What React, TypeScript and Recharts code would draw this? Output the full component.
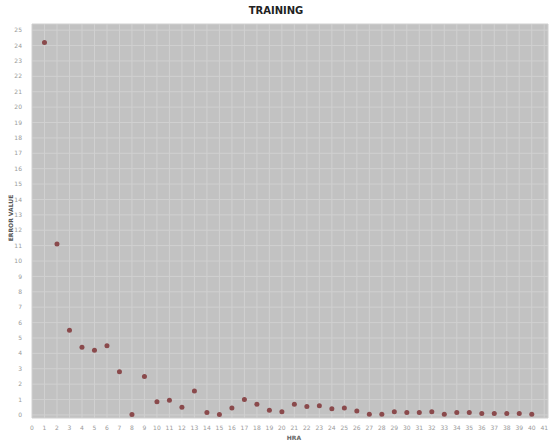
import { ScatterChart, Scatter, XAxis, YAxis, CartesianGrid } from "recharts"

const iterations = [
  1, 2, 3, 4, 5, 6, 7, 8, 9, 10, 11, 12, 13, 14, 15, 16, 17, 18, 19, 20,
  21, 22, 23, 24, 25, 26, 27, 28, 29, 30, 31, 32, 33, 34, 35, 36, 37, 38, 39, 40,
]
const errorValues = [
  24.2, 11.1, 5.5, 4.4, 4.2, 4.5, 2.8, 0.02, 2.5, 0.85, 0.95, 0.5, 1.55, 0.15, 0.02, 0.45, 1.0, 0.7, 0.3, 0.2,
  0.7, 0.55, 0.6, 0.4, 0.45, 0.25, 0.05, 0.05, 0.2, 0.15, 0.15, 0.2, 0.05, 0.15, 0.15, 0.1, 0.1, 0.1, 0.1, 0.05,
]
const xTicks = Array.from({ length: 42 }, (_, i) => i)
const yTicks = Array.from({ length: 26 }, (_, i) => i)

const data = iterations.map((x, i) => ({ x, y: errorValues[i] }))

const Dot = (props: any) => <circle cx={props.cx} cy={props.cy} r={2.5} fill="#8a4a4c" />

export default function App() {
  return (
    <div style={{ position: "absolute", left: 0, top: 0, width: 552, height: 445, background: "#fff", fontFamily: "'DejaVu Sans', sans-serif" }}>
      <div
        style={{
          position: "absolute",
          top: 5,
          left: 0,
          width: 552,
          textAlign: "center",
          fontSize: 10,
          fontWeight: "bold",
          color: "#222",
        }}
      >
        TRAINING
      </div>
      <div
        style={{
          position: "absolute",
          left: 10,
          top: 218,
          transform: "translate(-50%, -50%) rotate(-90deg)",
          fontSize: 6,
          fontWeight: "bold",
          color: "#555",
          whiteSpace: "nowrap",
        }}
      >
        ERROR VALUE
      </div>
      <div
        style={{
          position: "absolute",
          left: 294,
          top: 434,
          transform: "translateX(-50%)",
          fontSize: 6,
          fontWeight: "bold",
          color: "#666",
        }}
      >
        HRA
      </div>
      <ScatterChart width={552} height={445} margin={{ top: 24, right: 4, bottom: 12, left: 12 }}>
        <CartesianGrid fill="#c2c2c2" stroke="#d0d0d0" strokeWidth={1} />
        <XAxis
          type="number"
          dataKey="x"
          domain={[0, 41.3]}
          ticks={xTicks}
          interval={0}
          height={15}
          tick={{ fontSize: 6, fill: "#999" }}
          tickLine={false}
          axisLine={false}
          tickMargin={2}
          allowDataOverflow
        />
        <YAxis
          type="number"
          dataKey="y"
          domain={[-0.2, 25.4]}
          ticks={yTicks}
          interval={0}
          width={20}
          tick={{ fontSize: 6, fill: "#999" }}
          tickLine={false}
          axisLine={false}
          tickMargin={4}
          allowDataOverflow
        />
        <Scatter data={data} shape={Dot} isAnimationActive={false} />
      </ScatterChart>
    </div>
  )
}
